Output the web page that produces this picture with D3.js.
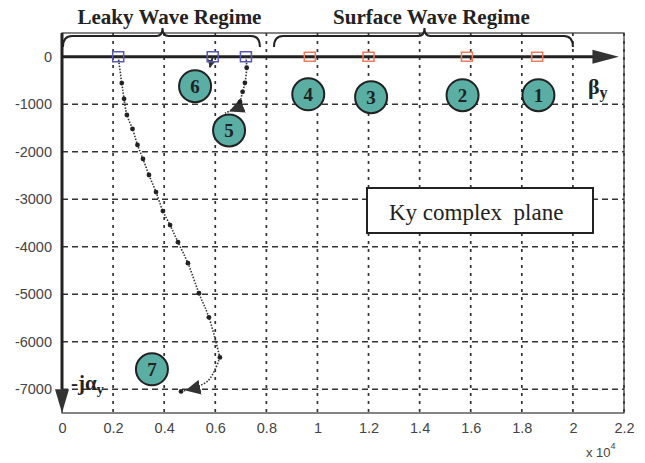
<!DOCTYPE html>
<html>
<head>
<meta charset="utf-8">
<script src="https://cdn.jsdelivr.net/npm/d3@7"></script>
<style>
  html, body { margin: 0; padding: 0; background: #fff; }
  svg { display: block; }
</style>
</head>
<body>
<svg id="chart" width="645" height="463"></svg>
<script>
// ---------------- data ----------------
const xTicks = [0, 2000, 4000, 6000, 8000, 10000, 12000, 14000, 16000, 18000, 20000, 22000];
const yTicks = [0, -1000, -2000, -3000, -4000, -5000, -6000, -7000];

// leaky-wave poles (blue squares) and surface-wave poles (orange squares), on the real axis
const leakyPoleX = [2200, 5900, 7200];
const surfacePoleX = [9700, 12000, 15850, 18600];

// main leaky trajectory (dots)
const trajAX = [2200, 2340, 2430, 2540, 2760, 2955, 3170, 3405, 3680, 3950, 4230, 4540, 4930, 5360, 5750, 6180];
const trajAY = [0, -555, -886, -1224, -1519, -1857, -2152, -2489, -2848, -3249, -3544, -3903, -4346, -4979, -5485, -6329];
// final arrow of the main trajectory
const arrowAX = [6180, 5700, 4660];
const arrowAY = [-6329, -6830, -7046];

// second trajectory (from pole at 7200) and its arrow
const trajBX = [7200, 7230, 7160, 7070, 6970];
const trajBY = [0, -232, -549, -738, -950];
const arrowBX = [6970, 6700, 6380];
const arrowBY = [-950, -1100, -1190];

// short trajectory from pole at 5900
const trajCX = [5900, 5790];
const trajCY = [0, -220];

// numbered circles
const labelNum = ["1", "2", "3", "4", "5", "6", "7"];
const labelX = [18650, 15680, 12100, 9640, 6540, 5210, 3520];
const labelY = [-810, -810, -850, -790, -1550, -620, -6580];

// regime braces
const regimeNames = ["Leaky Wave Regime", "Surface Wave Regime"];
const regimeStart = [0, 8260];
const regimeEnd = [7750, 20000];

// ---------------- drawing ----------------
const svg = d3.select("#chart");
const L = 62, R = 624, T = 33, B = 413;
const x = d3.scaleLinear().domain([0, 22000]).range([L, R]);
const y = d3.scaleLinear().domain([500, -7500]).range([T, B]);

const defs = svg.append("defs");
defs.append("marker").attr("id", "arr").attr("viewBox", "0 0 10 10")
  .attr("refX", 13).attr("refY", 5).attr("markerWidth", 15).attr("markerHeight", 15)
  .attr("markerUnits", "userSpaceOnUse").attr("orient", "auto")
  .append("path").attr("d", "M0,0 L10,5 L0,10 Z").attr("fill", "#333");
defs.append("marker").attr("id", "arrSmall").attr("viewBox", "0 0 10 10")
  .attr("refX", 9).attr("refY", 5).attr("markerWidth", 8).attr("markerHeight", 8)
  .attr("markerUnits", "userSpaceOnUse").attr("orient", "auto")
  .append("path").attr("d", "M0,0 L10,5 L0,10 Z").attr("fill", "#333");

// frame
svg.append("rect").attr("x", L).attr("y", T).attr("width", R - L).attr("height", B - T)
  .attr("fill", "none").attr("stroke", "#333").attr("stroke-width", 1.2);

// grid
svg.append("g").selectAll("line").data(xTicks.filter(d => d > 0))
  .join("line")
  .attr("x1", d => x(d)).attr("x2", d => x(d)).attr("y1", T).attr("y2", B)
  .attr("stroke", "#333").attr("stroke-width", 1.7).attr("stroke-dasharray", "3,5");
svg.append("g").selectAll("line").data(yTicks.filter(d => d < 0))
  .join("line")
  .attr("x1", L).attr("x2", R).attr("y1", d => y(d)).attr("y2", d => y(d))
  .attr("stroke", "#333").attr("stroke-width", 1.7).attr("stroke-dasharray", "6,4");

// tick labels via axes
const xAxis = svg.append("g").attr("transform", `translate(0,${B + 7})`)
  .call(d3.axisBottom(x).tickValues(xTicks).tickSize(0).tickFormat(d => String(+(d / 1e4).toFixed(1))));
xAxis.select(".domain").remove();
xAxis.selectAll("text").attr("font-family", "Liberation Sans, Arial, sans-serif")
  .attr("font-size", 14.5).attr("fill", "#444");

const yAxis = svg.append("g").attr("transform", `translate(${L - 7},0)`)
  .call(d3.axisLeft(y).tickValues(yTicks).tickSize(0).tickFormat(d => String(d)));
yAxis.select(".domain").remove();
yAxis.selectAll("text").attr("font-family", "Liberation Sans, Arial, sans-serif")
  .attr("font-size", 14.5).attr("fill", "#444");

// x 10^4
const sci = svg.append("text").attr("x", 586).attr("y", 457)
  .attr("font-family", "Liberation Sans, Arial, sans-serif").attr("font-size", 13).attr("fill", "#444");
sci.append("tspan").text("x 10");
sci.append("tspan").attr("dy", -8).attr("font-size", 9).text("4");

// axis arrows
svg.append("line").attr("x1", L).attr("x2", x(21000)).attr("y1", y(0)).attr("y2", y(0))
  .attr("stroke", "#222").attr("stroke-width", 3);
svg.append("path")
  .attr("d", `M${x(21000) - 6},${y(0) - 7} L${x(21800)},${y(0)} L${x(21000) - 6},${y(0) + 7} Z`)
  .attr("fill", "#333");
svg.append("line").attr("x1", L).attr("x2", L).attr("y1", T).attr("y2", y(-7000))
  .attr("stroke", "#222").attr("stroke-width", 3);
svg.append("path")
  .attr("d", `M${L - 7},${y(-7000)} L${L},${B} L${L + 7},${y(-7000)} Z`)
  .attr("fill", "#333");

// braces + regime titles
regimeNames.forEach((name, i) => {
  const x0 = x(regimeStart[i]) + 1, x1 = x(regimeEnd[i]);
  const xm = (x0 + x1) / 2 + 1;
  const yb = 36, yEnd = 47, yC = 28;
  svg.append("path")
    .attr("d", `M${x0},${yEnd} Q${x0},${yb} ${x0 + 9},${yb} L${xm - 6},${yb} Q${xm},${yb} ${xm},${yC} ` +
               `Q${xm},${yb} ${xm + 6},${yb} L${x1 - 9},${yb} Q${x1},${yb} ${x1},${yEnd}`)
    .attr("fill", "none").attr("stroke", "#222").attr("stroke-width", 2);
  svg.append("text").attr("x", xm + 7).attr("y", 24).attr("text-anchor", "middle")
    .attr("font-family", "Liberation Serif, Times New Roman, serif").attr("font-weight", "bold")
    .attr("font-size", 21).attr("fill", "#222").text(name);
});

// trajectories
const line = d3.line().x(d => x(d[0])).y(d => y(d[1])).curve(d3.curveCatmullRom.alpha(0.5));
const zipA = trajAX.map((v, i) => [v, trajAY[i]]);
const zipB = trajBX.map((v, i) => [v, trajBY[i]]);
const zipC = trajCX.map((v, i) => [v, trajCY[i]]);
const zipAA = arrowAX.map((v, i) => [v, arrowAY[i]]);
const zipBA = arrowBX.map((v, i) => [v, arrowBY[i]]);

const dotted = p => p.attr("fill", "none").attr("stroke", "#333").attr("stroke-width", 1.6).attr("stroke-dasharray", "1.5,1.5");
svg.append("path").attr("d", line(zipA)).call(dotted);
svg.append("path").attr("d", line(zipAA)).call(dotted).attr("marker-end", "url(#arr)");
svg.append("path").attr("d", line(zipB)).call(dotted);
svg.append("path").attr("d", line(zipBA)).call(dotted).attr("marker-end", "url(#arr)");
svg.append("path").attr("d", line(zipC)).attr("fill", "none").attr("stroke", "#333").attr("stroke-width", 2)
  .attr("marker-end", "url(#arrSmall)");

svg.append("g").selectAll("circle").data(zipA.slice(1).concat(zipB.slice(1), [zipAA[zipAA.length - 1]]))
  .join("circle").attr("cx", d => x(d[0])).attr("cy", d => y(d[1])).attr("r", 2.4).attr("fill", "#222");

// poles
svg.append("g").selectAll("rect").data(leakyPoleX).join("rect")
  .attr("x", d => x(d) - 5.5).attr("y", y(0) - 5).attr("width", 11).attr("height", 10)
  .attr("fill", "none").attr("stroke", "#5858b8").attr("stroke-width", 1.5);
svg.append("g").selectAll("rect").data(surfacePoleX).join("rect")
  .attr("x", d => x(d) - 5.5).attr("y", y(0) - 4.5).attr("width", 11).attr("height", 9)
  .attr("fill", "none").attr("stroke", "#f07a5a").attr("stroke-width", 1.5);

// numbered circles
const lab = svg.append("g").selectAll("g").data(labelNum).join("g")
  .attr("transform", (d, i) => `translate(${x(labelX[i])},${y(labelY[i])})`);
lab.append("circle").attr("r", 16).attr("fill", "#5aaea4").attr("stroke", "#222").attr("stroke-width", 2);
lab.append("text").attr("text-anchor", "middle").attr("dy", 6.5)
  .attr("font-family", "Liberation Serif, Times New Roman, serif").attr("font-weight", "bold")
  .attr("font-size", 19).attr("fill", "#222").text(d => d);

// Ky complex plane box
svg.append("rect").attr("x", 367).attr("y", 188).attr("width", 226).attr("height", 45)
  .attr("fill", "#fff").attr("stroke", "#222").attr("stroke-width", 2);
svg.append("text").attr("x", 389).attr("y", 220)
  .attr("font-family", "Liberation Serif, Times New Roman, serif").attr("font-size", 23)
  .attr("fill", "#222").attr("xml:space", "preserve").style("white-space", "pre").text("Ky complex  plane");

// axis symbols
const beta = svg.append("text").attr("x", 588).attr("y", 94)
  .attr("font-family", "Liberation Serif, Times New Roman, serif").attr("font-weight", "bold")
  .attr("font-size", 22).attr("fill", "#222");
beta.append("tspan").text("β");
beta.append("tspan").attr("dy", 4).attr("font-size", 16).text("y");

const alpha = svg.append("text").attr("x", 71).attr("y", 390)
  .attr("font-family", "Liberation Serif, Times New Roman, serif").attr("font-weight", "bold")
  .attr("font-size", 21).attr("fill", "#222");
alpha.append("tspan").text("-jα");
alpha.append("tspan").attr("dy", 4).attr("font-size", 14).text("y");
</script>
</body>
</html>
